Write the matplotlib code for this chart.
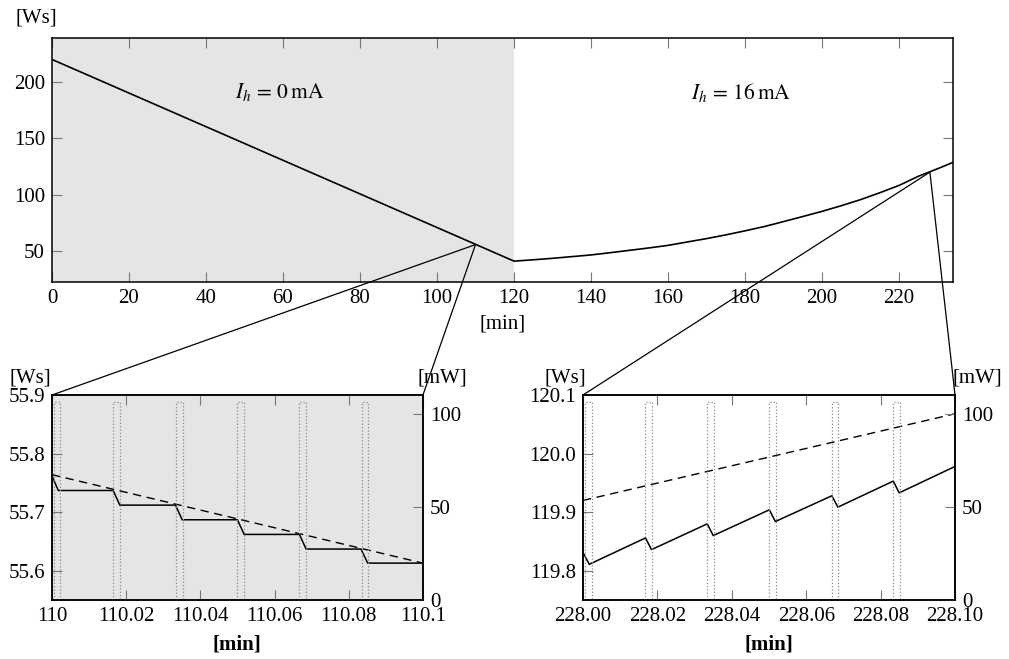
import matplotlib
matplotlib.use('Agg')
import matplotlib.pyplot as plt
from matplotlib.patches import ConnectionPatch

plt.rcParams['font.family'] = ['Liberation Serif', 'DejaVu Serif']
plt.rcParams['mathtext.fontset'] = 'stix'
plt.rcParams['font.size'] = 15

# overview curve
top_t = [0, 120, 125, 130, 135, 140, 145, 150, 155, 160, 165, 170, 175, 180,
         185, 190, 195, 200, 205, 210, 215, 220, 225, 228, 231, 234]
top_e = [220, 41, 42.2, 43.5, 45, 46.5, 48.5, 50.6, 52.7, 55, 58, 61, 64.3, 67.9,
         71.7, 76.1, 80.6, 85.2, 90.2, 95.6, 101.7, 108.2, 116.3, 120.3, 124.4, 128.7]

# zoom 1 (I_h = 0 mA)
z1_t = [110.0, 110.0017, 110.0165, 110.0183, 110.0333, 110.0351, 110.0500,
        110.0518, 110.0667, 110.0685, 110.0833, 110.0851, 110.1]
z1_e = [55.762, 55.737, 55.737, 55.712, 55.712, 55.687, 55.687,
        55.662, 55.662, 55.637, 55.637, 55.613, 55.613]
z1_avg_t = [110.0, 110.1]
z1_avg_e = [55.764, 55.613]
z1_pulse = [110.0005, 110.0165, 110.0334, 110.0500, 110.0667, 110.0835]

# zoom 2 (I_h = 16 mA)
z2_t = [228.0, 228.0017, 228.0168, 228.0184, 228.0334, 228.0350, 228.0501,
        228.0517, 228.0669, 228.0685, 228.0834, 228.0850, 228.1]
z2_e = [119.831, 119.811, 119.856, 119.836, 119.880, 119.860, 119.904,
        119.884, 119.928, 119.9085, 119.953, 119.933, 119.978]
z2_avg_t = [228.0, 228.1]
z2_avg_e = [119.920, 120.068]
z2_pulse = [228.0005, 228.0167, 228.0334, 228.0501, 228.0668, 228.0834]

pulse_w = 0.0018
pulse_p = 106

shade = '#e5e5e5'

fig = plt.figure(figsize=(10.09, 6.59), dpi=100)

def style(ax, right=True):
    ax.tick_params(direction='in', length=7, color='#777777', top=True,
                   right=right, pad=5)
    for s in ax.spines.values():
        s.set_linewidth(1.1)

ax = fig.add_axes([0.0515, 0.5721, 0.893, 0.3702])
ax.axvspan(0, 120, color=shade, lw=0)
ax.plot(top_t, top_e, color='k', lw=1.2)
ax.set_xlim(0, 234)
ax.set_ylim(22.5, 239)
ax.set_xticks(range(0, 221, 20))
ax.set_yticks([50, 100, 150, 200])
style(ax)
ax.set_xlabel('[min]', labelpad=5)
ax.text(59, 191, r'$I_h\,=\,0\,\mathrm{mA}$', ha='center', va='center', fontsize=15.5)
ax.text(179, 191, r'$I_h\,=\,16\,\mathrm{mA}$', ha='center', va='center', fontsize=15.5)
fig.text(0.0357, 0.9727, '[Ws]', ha='center', va='center')


def pulses(tw, starts):
    for s in starts:
        tw.plot([s, s, s + pulse_w, s + pulse_w], [0, pulse_p, pulse_p, 0],
                color='#8a8a8a', ls=':', lw=0.9)


def zoom_panel(rect, t, e, at, ae, ps, xlim, ylim, xt, xtl, yt, ytl, bg):
    a = fig.add_axes(rect)
    if bg:
        a.set_facecolor(shade)
    a.plot(t, e, color='k', lw=1.1)
    a.plot(at, ae, color='k', lw=1.0, ls=(0, (6, 4)))
    a.set_xlim(*xlim)
    a.set_ylim(*ylim)
    a.set_xticks(xt)
    a.set_xticklabels(xtl)
    a.set_yticks(yt)
    a.set_yticklabels(ytl)
    style(a, right=False)
    tw = a.twinx()
    pulses(tw, ps)
    tw.set_ylim(0, 110)
    tw.set_yticks([0, 50, 100])
    tw.tick_params(direction='in', length=7, color='#777777', pad=5)
    for s in tw.spines.values():
        s.set_linewidth(1.1)
    return a


axl = zoom_panel([0.0515, 0.0895, 0.3677, 0.3111], z1_t, z1_e, z1_avg_t, z1_avg_e,
                 z1_pulse, (110.0, 110.1), (55.55, 55.9),
                 [110, 110.02, 110.04, 110.06, 110.08, 110.1],
                 ['110', '110.02', '110.04', '110.06', '110.08', '110.1'],
                 [55.6, 55.7, 55.8, 55.9], ['55.6', '55.7', '55.8', '55.9'], True)
axr = zoom_panel([0.5778, 0.0895, 0.3687, 0.3111], z2_t, z2_e, z2_avg_t, z2_avg_e,
                 z2_pulse, (228.0, 228.1), (119.75, 120.1),
                 [228.0, 228.02, 228.04, 228.06, 228.08, 228.1],
                 ['228.00', '228.02', '228.04', '228.06', '228.08', '228.10'],
                 [119.8, 119.9, 120.0, 120.1], ['119.8', '119.9', '120.0', '120.1'], False)

for a, (px, py) in [(axl, (110, 55.7)), (axr, (228, 120))]:
    for corner in [(0, 1), (1, 1)]:
        cp = ConnectionPatch(xyA=(px, py), coordsA=ax.transData,
                             xyB=corner, coordsB=a.transAxes,
                             color='k', lw=0.9)
        fig.add_artist(cp)

for x in [30, 565]:
    fig.text(x / 1009, 1 - 378 / 659, '[Ws]', ha='center', va='center')
for x in [442, 977]:
    fig.text(x / 1009, 1 - 378 / 659, '[mW]', ha='center', va='center')
for x in [237, 769]:
    fig.text(x / 1009, 1 - 645 / 659, '[min]', ha='center', va='center',
             fontweight='bold')

fig.savefig('out.png', dpi=100)
